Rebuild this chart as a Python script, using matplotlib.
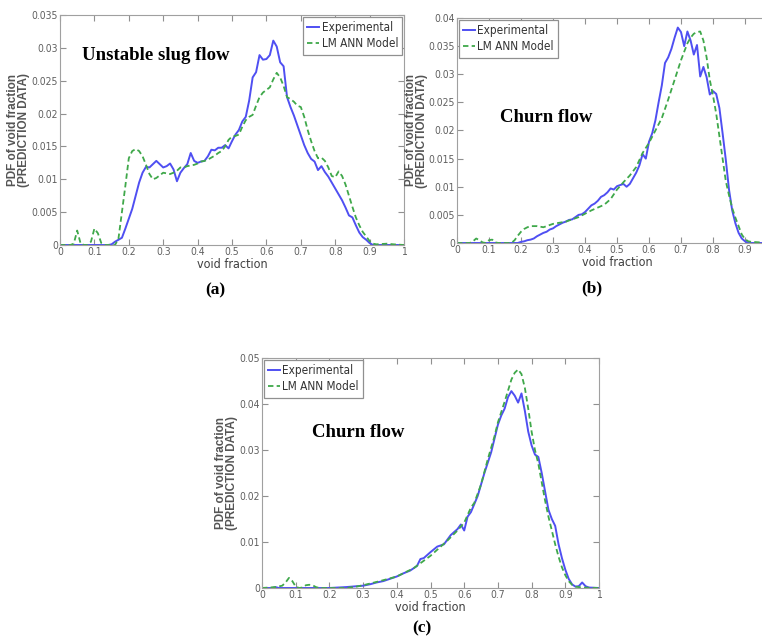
import numpy as np
import matplotlib
matplotlib.use('Agg')
from matplotlib import pyplot as plt
from matplotlib import font_manager
from matplotlib.ticker import FuncFormatter

# ---- (a) unstable slug flow ----
xa_exp = [0.0, 0.14, 0.15, 0.16, 0.17, 0.18, 0.19, 0.20, 0.21, 0.22, 0.23, 0.24, 0.25, 0.26, 0.27,
          0.28, 0.29, 0.30, 0.31, 0.32, 0.33, 0.34, 0.35, 0.36, 0.37, 0.38, 0.39, 0.40, 0.41, 0.42,
          0.43, 0.44, 0.45, 0.46, 0.47, 0.48, 0.49, 0.50, 0.51, 0.52, 0.53, 0.54, 0.55, 0.56, 0.57,
          0.58, 0.59, 0.60, 0.61, 0.62, 0.63, 0.64, 0.65, 0.66, 0.67, 0.68, 0.69, 0.70, 0.71, 0.72,
          0.73, 0.74, 0.75, 0.76, 0.77, 0.78, 0.79, 0.80, 0.81, 0.82, 0.83, 0.84, 0.85, 0.86, 0.87,
          0.88, 0.89, 0.90, 0.91, 1.0]
ya_exp = [0, 0, 0.0001, 0.0005, 0.0008, 0.0011, 0.0025, 0.004, 0.0055, 0.0075, 0.0095, 0.011, 0.0119,
          0.0118, 0.0123, 0.0128, 0.0123, 0.0118, 0.012, 0.0124, 0.0115, 0.0097, 0.011, 0.0117, 0.0123,
          0.014, 0.0128, 0.0125, 0.0127, 0.0128, 0.0135, 0.0145, 0.0144, 0.0148, 0.0148, 0.0152, 0.0147,
          0.0158, 0.0168, 0.0175, 0.0188, 0.0195, 0.022, 0.0255, 0.0263, 0.0289, 0.0282, 0.0283, 0.0289,
          0.0311, 0.0302, 0.0278, 0.0272, 0.0225, 0.021, 0.0197, 0.0182, 0.0167, 0.0152, 0.014, 0.0131,
          0.0127, 0.0114, 0.012, 0.0111, 0.0104, 0.0095, 0.0086, 0.0077, 0.0068, 0.0057, 0.0045, 0.0042,
          0.003, 0.0019, 0.0012, 0.0008, 0.0003, 0, 0]
xa_mod = [0.0, 0.03, 0.04, 0.05, 0.06, 0.07, 0.08, 0.09, 0.10, 0.11, 0.12, 0.13, 0.16, 0.17, 0.18,
          0.19, 0.20, 0.21, 0.22, 0.23, 0.24, 0.25, 0.26, 0.27, 0.28, 0.29, 0.30, 0.31, 0.32, 0.33,
          0.34, 0.35, 0.36, 0.37, 0.38, 0.39, 0.40, 0.41, 0.42, 0.43, 0.44, 0.45, 0.46, 0.47, 0.48,
          0.49, 0.50, 0.51, 0.52, 0.53, 0.54, 0.55, 0.56, 0.57, 0.58, 0.59, 0.60, 0.61, 0.62, 0.63,
          0.64, 0.65, 0.66, 0.67, 0.68, 0.69, 0.70, 0.71, 0.72, 0.73, 0.74, 0.75, 0.76, 0.77, 0.78,
          0.79, 0.80, 0.81, 0.82, 0.83, 0.84, 0.85, 0.86, 0.87, 0.88, 0.89, 0.90, 0.91, 0.92, 0.95,
          0.97, 1.0]
ya_mod = [0, 0, 0.0002, 0.0022, 0.0002, 0, 0, 0.0005, 0.0025, 0.0018, 0.0003, 0, 0, 0.001, 0.005,
          0.009, 0.0132, 0.0143, 0.0146, 0.0143, 0.0135, 0.0122, 0.0108, 0.01, 0.0102, 0.0106, 0.011,
          0.0109, 0.0108, 0.011, 0.0113, 0.0118, 0.0118, 0.012, 0.0121, 0.0122, 0.0124, 0.0127, 0.0128,
          0.013, 0.0133, 0.0136, 0.014, 0.0143, 0.015, 0.016, 0.0165, 0.0166, 0.0168, 0.018, 0.019,
          0.0195, 0.0198, 0.0212, 0.0225, 0.0232, 0.0236, 0.024, 0.0252, 0.0262, 0.0255, 0.0242, 0.0225,
          0.0222, 0.0218, 0.0212, 0.021, 0.0195, 0.0175, 0.0158, 0.0143, 0.0132, 0.0133, 0.0128, 0.0118,
          0.0105, 0.0103, 0.0112, 0.0105, 0.0092, 0.0075, 0.0058, 0.0042, 0.003, 0.002, 0.0013, 0.0006,
          0.0002, 0.0001, 0.0002, 0.0001, 0]

# ---- (b) churn flow ----
xb_exp = [0.0, 0.19, 0.20, 0.21, 0.22, 0.23, 0.24, 0.25, 0.26, 0.27, 0.28, 0.29, 0.30, 0.31, 0.32,
          0.33, 0.34, 0.35, 0.36, 0.37, 0.38, 0.39, 0.40, 0.41, 0.42, 0.43, 0.44, 0.45, 0.46, 0.47,
          0.48, 0.49, 0.50, 0.51, 0.52, 0.53, 0.54, 0.55, 0.56, 0.57, 0.58, 0.59, 0.60, 0.61, 0.62,
          0.63, 0.64, 0.65, 0.66, 0.67, 0.68, 0.69, 0.70, 0.71, 0.72, 0.73, 0.74, 0.75, 0.76, 0.77,
          0.78, 0.79, 0.80, 0.81, 0.82, 0.83, 0.84, 0.85, 0.86, 0.87, 0.88, 0.89, 0.90, 0.91, 1.0]
yb_exp = [0, 0, 0.0002, 0.0003, 0.0005, 0.0006, 0.0008, 0.0012, 0.0015, 0.0018, 0.002, 0.0024, 0.0026,
          0.003, 0.0033, 0.0036, 0.0038, 0.0041, 0.0042, 0.0046, 0.005, 0.0051, 0.0055, 0.0061, 0.0067,
          0.007, 0.0075, 0.0082, 0.0085, 0.009, 0.0097, 0.0095, 0.0101, 0.0103, 0.0105, 0.01, 0.0105,
          0.0115, 0.0125, 0.0138, 0.0158, 0.015, 0.018, 0.0195, 0.0218, 0.025, 0.028, 0.032, 0.033,
          0.0345, 0.0365, 0.0383, 0.0375, 0.035, 0.0376, 0.036, 0.0335, 0.0352, 0.0296, 0.0313, 0.0295,
          0.0264, 0.027, 0.0265, 0.024, 0.0195, 0.0148, 0.0095, 0.0058, 0.0035, 0.0018, 0.0008, 0.0003,
          0, 0]
xb_mod = [0.0, 0.04, 0.05, 0.06, 0.07, 0.08, 0.09, 0.10, 0.11, 0.12, 0.13, 0.17, 0.18, 0.19, 0.20,
          0.21, 0.22, 0.23, 0.24, 0.25, 0.26, 0.27, 0.28, 0.30, 0.32, 0.34, 0.36, 0.38, 0.40, 0.42,
          0.44, 0.46, 0.48, 0.50, 0.52, 0.54, 0.56, 0.58, 0.60, 0.62, 0.64, 0.66, 0.68, 0.70, 0.72,
          0.73, 0.74, 0.75, 0.76, 0.77, 0.78, 0.79, 0.80, 0.81, 0.82, 0.83, 0.84, 0.85, 0.86, 0.87,
          0.88, 0.89, 0.90, 0.91, 0.92, 0.95, 1.0]
yb_mod = [0, 0, 0.0003, 0.0008, 0.0005, 0.0001, 0, 0.0005, 0.0006, 0.0001, 0, 0, 0.0005, 0.0013,
          0.002, 0.0025, 0.0028, 0.003, 0.003, 0.003, 0.0029, 0.0028, 0.003, 0.0034, 0.0036, 0.0038,
          0.0042, 0.0046, 0.0052, 0.0058, 0.0063, 0.0068, 0.0078, 0.0095, 0.0108, 0.012, 0.0135, 0.016,
          0.0178, 0.02, 0.0222, 0.0255, 0.029, 0.0325, 0.0355, 0.0365, 0.0372, 0.0375, 0.0376, 0.036,
          0.033, 0.029, 0.0262, 0.023, 0.019, 0.015, 0.011, 0.0085, 0.0062, 0.0045, 0.003, 0.0015,
          0.0007, 0.0003, 0.0002, 0.0001, 0]

# ---- (c) churn flow ----
xc_exp = [0.0, 0.03, 0.04, 0.05, 0.20, 0.25, 0.30, 0.32, 0.34, 0.36, 0.38, 0.40, 0.42, 0.44, 0.46,
          0.47, 0.48, 0.50, 0.52, 0.54, 0.56, 0.58, 0.59, 0.60, 0.61, 0.62, 0.64, 0.66, 0.68, 0.70,
          0.71, 0.72, 0.73, 0.74, 0.75, 0.76, 0.77, 0.78, 0.79, 0.80, 0.81, 0.82, 0.83, 0.84, 0.85,
          0.86, 0.87, 0.88, 0.89, 0.90, 0.91, 0.92, 0.93, 0.94, 0.95, 0.96, 0.97, 1.0]
yc_exp = [0, 0, 0.0002, 0, 0, 0.0002, 0.0005, 0.0008, 0.0012, 0.0015, 0.002, 0.0025, 0.0032, 0.0038,
          0.0048, 0.0063, 0.0065, 0.0078, 0.009, 0.0095, 0.0115, 0.0128, 0.0138, 0.0125, 0.0155, 0.0165,
          0.02, 0.025, 0.0295, 0.0355, 0.0375, 0.039, 0.0415, 0.0428, 0.0418, 0.0403, 0.0423, 0.0385,
          0.034, 0.031, 0.029, 0.0285, 0.025, 0.021, 0.017, 0.015, 0.0135, 0.0095, 0.0065, 0.004, 0.002,
          0.0008, 0.0003, 0.0004, 0.0012, 0.0004, 0.0001, 0]
xc_mod = [0.0, 0.04, 0.06, 0.07, 0.08, 0.09, 0.10, 0.11, 0.12, 0.13, 0.14, 0.15, 0.16, 0.17, 0.25,
          0.28, 0.30, 0.35, 0.40, 0.45, 0.50, 0.55, 0.58, 0.60, 0.62, 0.63, 0.65, 0.67, 0.69, 0.70,
          0.72, 0.74, 0.75, 0.76, 0.77, 0.78, 0.79, 0.80, 0.81, 0.82, 0.83, 0.84, 0.85, 0.86, 0.87,
          0.88, 0.89, 0.90, 0.91, 0.92, 0.93, 0.95, 1.0]
yc_mod = [0, 0.0002, 0.0005, 0.0012, 0.0022, 0.0015, 0.0003, 0, 0.0001, 0.0006, 0.0007, 0.0006,
          0.0002, 0, 0, 0.0003, 0.0006, 0.0015, 0.0025, 0.0043, 0.007, 0.0103, 0.0125, 0.0142, 0.0175,
          0.0185, 0.0225, 0.028, 0.033, 0.036, 0.0405, 0.0453, 0.0468, 0.0475, 0.0465, 0.0435, 0.039,
          0.034, 0.03, 0.027, 0.023, 0.019, 0.0155, 0.0125, 0.0095, 0.0068, 0.0045, 0.0028, 0.0015,
          0.0007, 0.0003, 0.0001, 0]

x_ticks = [0, 0.1, 0.2, 0.3, 0.4, 0.5, 0.6, 0.7, 0.8, 0.9, 1]
legend_labels = ['Experimental', 'LM ANN Model']

SERIF = ['Liberation Serif', 'DejaVu Serif']
GRAY = '#606060'

# narrow sans like the MATLAB screen font
NARROW = font_manager.FontProperties(family='DejaVu Sans', stretch='condensed')


def narrow(size, weight='normal'):
    fp = NARROW.copy()
    fp.set_size(size)
    fp.set_weight(weight)
    return fp


def draw_panel(ax, x_exp, y_exp, x_mod, y_mod, ymax, ystep, title, title_pos, legend_loc,
               ylab_x, xticks):
    ax.plot(x_exp, y_exp, color='#4f4ff2', lw=1.4, label=legend_labels[0])
    ax.plot(x_mod, y_mod, color='#3fa84a', lw=1.3, ls=(0, (3, 1.8)), label=legend_labels[1])
    ax.set_xlim(0, 1)
    ax.set_ylim(0, ymax)
    ax.set_xticks(xticks)
    ax.set_yticks(np.round(np.arange(0, ymax + ystep / 2, ystep), 4))
    fmt = FuncFormatter(lambda v, p: '%g' % v)
    ax.xaxis.set_major_formatter(fmt)
    ax.yaxis.set_major_formatter(fmt)
    ax.tick_params(direction='in', top=True, right=True, length=4, width=0.8,
                   color='#909090', labelcolor=GRAY, pad=1.5)
    for lab in ax.get_xticklabels() + ax.get_yticklabels():
        lab.set_fontproperties(narrow(7.5))
    for sp in ax.spines.values():
        sp.set_color('#a0a0a0')
    ax.set_xlabel('void fraction', fontproperties=narrow(9), color='#404040', labelpad=1)
    ax.set_ylabel('PDF of void fraction\n(PREDICTION DATA)', family=['Liberation Sans', 'DejaVu Sans'],
                  fontsize=8.5, fontweight='bold', color='#555555', linespacing=0.9)
    ax.yaxis.set_label_coords(ylab_x, 0.5)
    ax.text(title_pos[0], title_pos[1], title, transform=ax.transAxes, family=SERIF,
            fontsize=13.5, fontweight='bold', va='center', ha='left')
    leg = ax.legend(loc=legend_loc, prop=narrow(8.5), fancybox=False,
                    framealpha=1, edgecolor='#909090', handlelength=1.0, handletextpad=0.2,
                    borderpad=0.35, labelspacing=0.3, borderaxespad=0.15)
    leg.get_frame().set_linewidth(0.9)
    for t in leg.get_texts():
        t.set_color('#333333')


fig = plt.figure(figsize=(7.62, 6.39), dpi=100)

ax_a = fig.add_axes([60 / 762, 1 - 245 / 639, 344 / 762, 230 / 639])
draw_panel(ax_a, xa_exp, ya_exp, xa_mod, ya_mod, 0.035, 0.005, 'Unstable slug flow',
           (0.064, 0.826), 'upper right', -0.087, x_ticks)

# panel (b) runs past the right edge of the picture, as in the source figure
ax_b = fig.add_axes([457 / 762, 1 - 243 / 639, 320 / 762, 225 / 639])
draw_panel(ax_b, xb_exp, yb_exp, xb_mod, yb_mod, 0.04, 0.005, 'Churn flow',
           (0.134, 0.56), 'upper left', -0.09, x_ticks[:-1])

ax_c = fig.add_axes([262 / 762, 1 - 588 / 639, 337 / 762, 230 / 639])
draw_panel(ax_c, xc_exp, yc_exp, xc_mod, yc_mod, 0.05, 0.01, 'Churn flow',
           (0.148, 0.674), 'upper left', -0.07, x_ticks)

for lbl, px, py in [('(a)', 215, 290), ('(b)', 592, 288), ('(c)', 422, 628)]:
    fig.text(px / 762, 1 - py / 639, lbl, family=SERIF, fontsize=12.5, fontweight='bold',
             ha='center', va='center')

fig.savefig('out.png', dpi=100)
